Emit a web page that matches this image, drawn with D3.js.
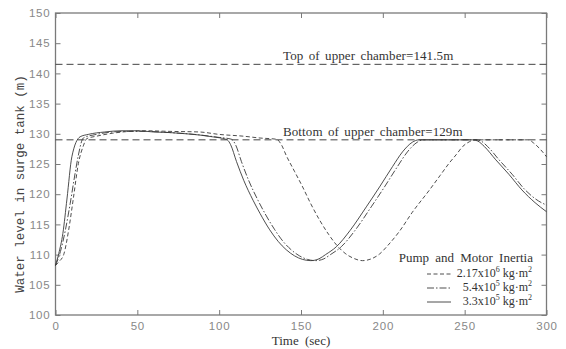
<!DOCTYPE html>
<html><head><meta charset="utf-8">
<script src="https://cdn.jsdelivr.net/npm/d3@7"></script>
<style>
html,body{margin:0;padding:0;background:#fff;}
svg{display:block;}
</style></head>
<body>
<svg id="chart" width="566" height="349"></svg>
<script>
// ---- data ----
const xTicks = [0, 50, 100, 150, 200, 250, 300];
const yTicks = [100, 105, 110, 115, 120, 125, 130, 135, 140, 145, 150];

// 2.17x10^6 kg·m² (dashed)
const tDashed = [0, 2, 5, 8, 11, 14, 17, 19.1, 25, 35, 45, 55, 70, 88, 100, 115, 125, 135, 138, 141, 146, 151, 156, 161.4, 167, 172, 177, 182, 187.6, 193, 198, 203, 210, 218, 228.5, 235, 240.7, 245, 248.8, 253, 256, 270, 289, 292, 296, 300];
const vDashed = [108.2, 108.8, 110, 114, 119.5, 125.1, 128, 129.2, 129.6, 130.1, 130.4, 130.5, 130.4, 130.3, 129.9, 129.6, 129.3, 129.1, 128.2, 126.4, 123.8, 121.2, 118.4, 115.7, 113.3, 111.5, 110.2, 109.4, 109, 109.3, 110.1, 111.5, 113.8, 117, 120.7, 123.1, 125.2, 126.6, 127.9, 128.7, 129, 129, 129, 128.5, 127.5, 126.2];

// 5.4x10^5 kg·m² (dash-dot)
const tDashDot = [0, 3, 6, 9, 12, 14, 17, 25, 35, 45, 55, 70, 85, 100, 107.5, 110, 113.6, 118, 123.7, 128, 134, 139, 144, 149, 154, 159, 164, 168, 174.6, 183, 192.9, 201, 209, 215, 221, 224.5, 240, 257, 260, 264, 271, 279, 287, 295, 300];
const vDashDot = [108.2, 110.5, 114, 118.5, 123.5, 126.5, 129.3, 129.9, 130.3, 130.4, 130.4, 130.2, 129.9, 129.4, 129.1, 128.2, 125.4, 122.3, 119, 116.8, 114.1, 112.2, 110.8, 109.8, 109.2, 109, 109.3, 110, 111.3, 114, 117.9, 121.2, 124.6, 127, 128.6, 129, 129, 129, 128.8, 127.9, 125.7, 123.3, 120.7, 118.9, 118.2];

// 3.3x10^5 kg·m² (solid)
const tSolid = [0, 2, 4.5, 7, 10, 15, 20, 30, 40, 50, 60, 70, 80, 88, 96, 104, 105, 107, 110.6, 115, 120.7, 125, 130.9, 136, 141, 146, 151, 156, 161, 165, 171.6, 180, 189.9, 198, 206, 212, 218, 222, 240, 255, 258, 262, 269, 277, 285, 293, 300];
const vSolid = [108.2, 110.2, 113.5, 119.2, 126.2, 129.5, 129.9, 130.3, 130.5, 130.5, 130.3, 130.2, 130, 129.8, 129.5, 129.1, 129, 128.2, 125.4, 122.3, 119, 116.8, 114.1, 112.2, 110.8, 109.8, 109.2, 109, 109.3, 110, 111.3, 114, 117.9, 121.2, 124.6, 127, 128.6, 129, 129, 129, 128.8, 127.9, 125.7, 123.3, 120.7, 118.6, 117.1];

const refLevels = [141.5, 129];
const refLabels = ["Top of upper chamber=141.5m", "Bottom of upper chamber=129m"];
const legendTitle = "Pump and Motor Inertia";
const legendBase = ["2.17x10", "5.4x10", "3.3x10"];
const legendExp = ["6", "5", "5"];

// ---- layout ----
const svg = d3.select("#chart");
const x = d3.scaleLinear().domain([0, 300]).range([55.5, 546.5]);
const y = d3.scaleLinear().domain([100, 150]).range([315, 13]);

const axisColor = "#7a7a7a";
const tickFont = "'Liberation Sans', Arial, sans-serif";
const serif = "'Liberation Serif', 'Times New Roman', serif";

// frame
svg.append("rect").attr("x", x(0)).attr("y", y(150))
  .attr("width", x(300) - x(0)).attr("height", y(100) - y(150))
  .attr("fill", "none").attr("stroke", axisColor).attr("stroke-width", 1.3);

function styleAxis(g) {
  g.select(".domain").remove();
  g.selectAll(".tick line").attr("stroke", axisColor).attr("stroke-width", 1);
  g.selectAll(".tick text").attr("fill", "#888")
    .style("font-family", tickFont).style("font-size", "11.5px").style("letter-spacing", "0.8px");
}

const gx = svg.append("g").attr("transform", `translate(0,${y(100)})`)
  .call(d3.axisBottom(x).tickValues(xTicks).tickSizeInner(-5).tickSizeOuter(0).tickPadding(7));
styleAxis(gx);
const gxt = svg.append("g").attr("transform", `translate(0,${y(150)})`)
  .call(d3.axisTop(x).tickValues(xTicks).tickSizeInner(-5).tickSizeOuter(0).tickFormat(""));
styleAxis(gxt);
const gy = svg.append("g").attr("transform", `translate(${x(0)},0)`)
  .call(d3.axisLeft(y).tickValues(yTicks).tickSizeInner(-5).tickSizeOuter(0).tickPadding(5));
styleAxis(gy);
const gyr = svg.append("g").attr("transform", `translate(${x(300)},0)`)
  .call(d3.axisRight(y).tickValues(yTicks).tickSizeInner(-5).tickSizeOuter(0).tickFormat(""));
styleAxis(gyr);

// reference lines
refLevels.forEach((lv, i) => {
  svg.append("line").attr("x1", x(0)).attr("x2", x(300)).attr("y1", y(lv)).attr("y2", y(lv))
    .attr("stroke", "#444").attr("stroke-width", 1).attr("stroke-dasharray", "7,4");
  svg.append("text").attr("x", 283).attr("y", y(lv) - 4)
    .style("font-family", serif).style("font-size", "13px")
    .style("word-spacing", "2px").style("letter-spacing", "0.1px")
    .attr("fill", "#333").text(refLabels[i]);
});

// curves
const line = d3.line().x(d => x(d[0])).y(d => y(d[1])).curve(d3.curveMonotoneX);
const series = [
  {t: tDashed, v: vDashed, dash: "4,2.5"},
  {t: tDashDot, v: vDashDot, dash: "7,2,1.5,2"},
  {t: tSolid, v: vSolid, dash: null}
];
series.forEach(s => {
  const pts = s.t.map((t, i) => [t, s.v[i]]);
  const p = svg.append("path").datum(pts).attr("d", line)
    .attr("fill", "none").attr("stroke", "#3a3a3a").attr("stroke-width", 0.9);
  if (s.dash) p.attr("stroke-dasharray", s.dash);
});

// axis titles
svg.append("text").attr("x", 301).attr("y", 345).attr("text-anchor", "middle")
  .style("font-family", serif).style("font-size", "13px")
  .style("word-spacing", "3px").attr("fill", "#333").text("Time (sec)");
svg.append("text").attr("transform", "translate(24,184) rotate(-90)").attr("text-anchor", "middle")
  .style("font-family", "'Liberation Mono', 'Courier New', monospace").style("font-size", "12.5px")
  .attr("fill", "#444").text("Water level in surge tank (m)");

// legend
svg.append("text").attr("x", 533).attr("y", 262).attr("text-anchor", "end")
  .style("font-family", serif).style("font-size", "13px").style("word-spacing", "3px")
  .attr("fill", "#333").text(legendTitle);
const rowY = [277, 291, 305];
series.forEach((s, i) => {
  const l = svg.append("line").attr("x1", 427).attr("x2", 451)
    .attr("y1", rowY[i] - 3).attr("y2", rowY[i] - 3)
    .attr("stroke", "#3a3a3a").attr("stroke-width", 0.9);
  if (s.dash) l.attr("stroke-dasharray", s.dash);
  const tx = svg.append("text").attr("x", 532).attr("y", rowY[i]).attr("text-anchor", "end")
    .style("font-family", serif).style("font-size", "12px").attr("fill", "#333");
  tx.append("tspan").text(legendBase[i]);
  tx.append("tspan").attr("dy", -5).style("font-size", "8px").text(legendExp[i]);
  tx.append("tspan").attr("dy", 5).text(" kg\u00b7m");
  tx.append("tspan").attr("dy", -5).style("font-size", "8px").text("2");
});
</script>
</body></html>
